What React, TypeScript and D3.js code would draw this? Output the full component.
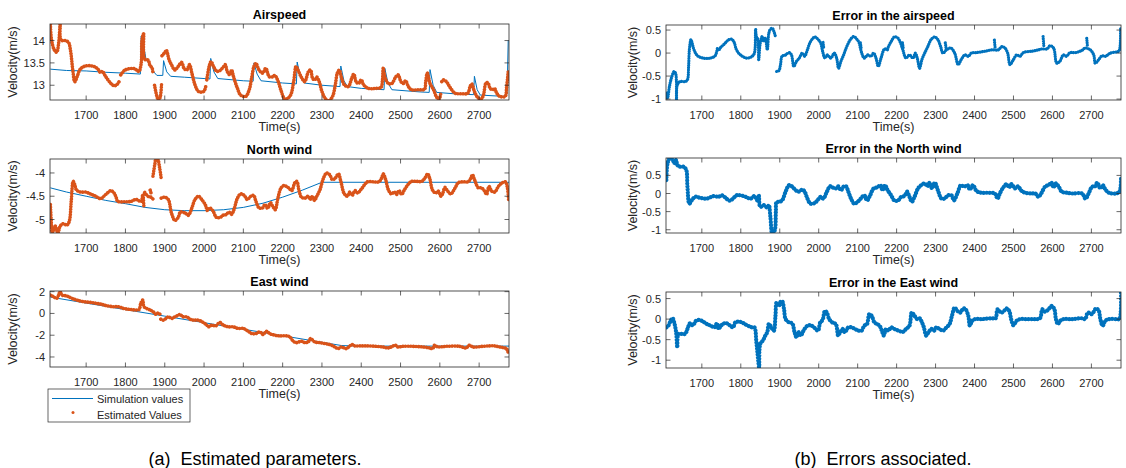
import React from 'react';
import * as d3 from 'd3';

type Pt = [number, number] | null;

const TIME_DOMAIN: [number, number] = [1608, 2776];
const TIME_TICKS = [1700, 1800, 1900, 2000, 2100, 2200, 2300, 2400, 2500, 2600, 2700];

const AIR_TICKS = [13, 13.5, 14];
const NORTH_TICKS = [-5, -4.5, -4];
const EAST_TICKS = [-4, -2, 0, 2];
const ERR_TICKS = [-1, -0.5, 0, 0.5];

const TITLES = ['Airspeed', 'North wind', 'East wind', 'Error in the airspeed', 'Error in the North wind', 'Error in the East wind'];
const LEGEND_LABELS = ['Simulation values', 'Estimated Values'];
const CAPTIONS = ['(a)\u00A0 Estimated parameters.', '(b)\u00A0 Errors associated.'];

const airSim: Pt[] = [
  [1609, 13.36], [1650, 13.33], [1700, 13.32], [1750, 13.29], [1800, 13.27], [1838, 13.25], [1840, 14.1], [1845, 13.95],
  [1852, 13.6], [1862, 13.45], [1872, 13.3], [1880, 13.22], [1895, 13.22], [1897, 13.55], [1905, 13.3], [1915, 13.2],
  [1950, 13.18], [2000, 13.15], [2015, 13.14], [2017, 13.6], [2025, 13.3], [2035, 13.15], [2100, 13.1], [2125, 13.09],
  [2127, 13.5], [2135, 13.25], [2145, 13.1], [2200, 13.05], [2235, 13.03], [2237, 13.52], [2245, 13.2], [2255, 13.05],
  [2300, 13.0], [2346, 12.97], [2348, 13.43], [2356, 13.1], [2365, 12.97], [2400, 12.93], [2458, 12.9], [2460, 13.38],
  [2468, 13.05], [2478, 12.9], [2550, 12.85], [2573, 12.84], [2575, 13.35], [2583, 13.0], [2592, 12.84], [2650, 12.8],
  [2686, 12.79], [2688, 13.2], [2695, 12.9], [2703, 12.78], [2765, 12.75], [2771, 12.8], [2774, 14.0],
];

const airEst: Pt[] = [
  [1609, 14.36], [1612, 14.01], [1619, 13.79], [1625, 13.74], [1630, 13.94], [1634, 14.37], [1636, 14.01], [1647, 14.0],
  [1655, 13.96], [1660, 13.79], [1666, 13.34], [1671, 13.08], [1677, 13.19], [1685, 13.36], [1698, 13.43], [1715, 13.43],
  [1728, 13.38], [1737, 13.28], [1741, 13.31], [1750, 13.19], [1763, 13.04], [1771, 12.99], [1778, 13.01], [1786, 13.12],
  null,
  [1788, 13.23], [1797, 13.33], [1810, 13.37], [1823, 13.37], [1834, 13.31], [1840, 13.49], [1842, 14.01], [1846, 14.15],
  [1849, 13.58], [1858, 13.56], [1862, 13.45], [1868, 13.38], [1870, 13.25],
  null,
  [1874, 13.0], [1880, 12.75], [1884, 12.67], [1888, 12.72], [1892, 13.05],
  null,
  [1893, 13.66], [1900, 13.73], [1904, 13.78], [1911, 13.57], [1917, 13.46], [1926, 13.34], [1934, 13.42], [1943, 13.51],
  [1949, 13.38], [1956, 13.34], [1963, 13.46], [1969, 13.27], [1977, 13.01], [1986, 12.86], [1999, 12.86], [2005, 13.0],
  null,
  [2007, 13.12], [2013, 13.42], [2018, 13.53], [2024, 13.42], [2033, 13.31], [2042, 13.34], [2050, 13.42], [2054, 13.46],
  [2059, 13.31], [2066, 13.23], [2070, 13.34], [2076, 13.16], [2085, 12.93], [2093, 12.78], [2106, 12.75], [2115, 12.9],
  [2121, 13.16], [2127, 13.42], [2132, 13.49], [2140, 13.34], [2149, 13.27], [2157, 13.38], [2166, 13.19], [2175, 13.19],
  [2180, 13.22], [2188, 13.1], [2196, 12.88], [2206, 12.69], [2219, 12.76], [2228, 13.08], [2234, 13.42], [2239, 13.34],
  [2247, 13.19], [2256, 13.08], [2266, 13.31], [2271, 13.34], [2276, 13.16], [2281, 13.12], [2287, 13.18], [2293, 13.08],
  [2300, 12.86], [2308, 12.71], [2317, 12.65], [2327, 12.75], [2334, 13.01], [2339, 13.27], [2344, 13.34], [2350, 13.16],
  [2357, 13.01], [2367, 12.97], [2376, 13.16], [2381, 13.25], [2387, 13.08], [2393, 13.04], [2400, 13.12], [2406, 13.01],
  [2418, 12.93], [2435, 12.93], [2450, 12.95], [2454, 13.12], [2456, 13.38], [2461, 13.16], [2469, 13.04], [2478, 13.04],
  [2488, 13.19], [2494, 13.23], [2501, 13.08], [2507, 13.04], [2513, 13.1], [2520, 12.97], [2528, 12.9], [2545, 12.9],
  [2561, 12.91], [2564, 13.08], [2568, 13.27], [2575, 13.04], [2584, 12.9], [2592, 12.73], [2598, 12.69], [2602, 12.8],
  null,
  [2605, 13.08], [2609, 13.12], [2617, 13.08], [2622, 13.01], [2630, 12.9], [2639, 12.82], [2656, 12.81], [2671, 12.82],
  [2677, 12.97], [2681, 13.03], [2688, 12.86], [2696, 12.73], [2705, 12.69], [2711, 12.78], [2717, 13.04], [2722, 13.06],
  [2728, 12.93], [2734, 12.9], [2739, 12.93], [2745, 12.82], [2753, 12.75], [2766, 12.75], [2770, 12.97], [2774, 13.31],
];

const northSim: Pt[] = [
  [1609, -4.32], [1650, -4.41], [1700, -4.5], [1750, -4.59], [1800, -4.66], [1850, -4.74], [1900, -4.79], [1950, -4.81],
  [2000, -4.81], [2050, -4.79], [2100, -4.74], [2150, -4.65], [2200, -4.52], [2250, -4.37], [2300, -4.2], [2776, -4.2],
];

const northEst: Pt[] = [
  [1609, -4.68], [1611, -5.0], [1614, -5.29], [1621, -5.14], [1628, -5.29], [1634, -5.14], [1642, -5.09], [1651, -5.12],
  [1657, -5.04], [1662, -4.61], [1667, -4.18], [1671, -4.25], [1675, -4.36], [1685, -4.41], [1698, -4.41], [1711, -4.45],
  [1724, -4.5], [1737, -4.55], [1750, -4.46], [1763, -4.38], [1771, -4.43], [1777, -4.54], [1780, -4.61], [1797, -4.62],
  [1814, -4.61], [1827, -4.57], [1840, -4.61], [1844, -4.46], [1847, -4.75],
  null,
  [1849, -4.42], [1857, -4.5], [1865, -4.52], [1870, -4.56],
  null,
  [1863, -4.37], [1866, -4.46],
  null,
  [1870, -4.07], [1875, -3.8], [1878, -3.68], [1882, -3.7], [1887, -3.89], [1891, -4.12],
  null,
  [1891, -4.54], [1900, -4.52], [1909, -4.57], [1917, -4.86], [1926, -5.02], [1934, -4.96], [1940, -4.84], [1952, -4.86],
  [1960, -4.91], [1969, -4.75], [1977, -4.57], [1986, -4.5], [1994, -4.57], [2003, -4.68], [2009, -4.81], [2014, -4.75],
  [2023, -4.82], [2031, -4.95], [2040, -4.96], [2048, -4.91], [2057, -4.89], [2063, -4.84], [2070, -4.89], [2076, -4.79],
  [2085, -4.54], [2093, -4.45], [2102, -4.48], [2110, -4.57], [2119, -4.5], [2126, -4.48], [2132, -4.61], [2140, -4.75],
  [2149, -4.75], [2155, -4.68], [2162, -4.76], [2169, -4.64], [2175, -4.72], [2181, -4.79], [2188, -4.54], [2196, -4.32],
  [2204, -4.27], [2215, -4.32], [2223, -4.38], [2231, -4.21], [2236, -4.18], [2242, -4.39], [2248, -4.52], [2257, -4.54],
  [2265, -4.5], [2270, -4.57], [2276, -4.5], [2281, -4.59], [2287, -4.5], [2295, -4.36], [2304, -4.11], [2312, -4.0],
  [2320, -4.04], [2326, -4.14], [2333, -4.12], [2342, -4.02], [2348, -4.18], [2357, -4.45], [2365, -4.5], [2371, -4.41],
  [2377, -4.48], [2384, -4.38], [2391, -4.43], [2399, -4.36], [2408, -4.26], [2416, -4.19], [2431, -4.19], [2445, -4.19],
  [2452, -4.11], [2456, -4.02], [2462, -4.14], [2469, -4.36], [2477, -4.45], [2484, -4.41], [2490, -4.46], [2496, -4.38],
  [2503, -4.46], [2510, -4.36], [2520, -4.24], [2528, -4.18], [2541, -4.18], [2554, -4.18], [2562, -4.11], [2569, -4.02],
  [2575, -4.14], [2581, -4.36], [2589, -4.43], [2596, -4.39], [2603, -4.5], [2607, -4.45], [2613, -4.31], [2620, -4.39],
  [2628, -4.45], [2639, -4.32], [2647, -4.21], [2660, -4.19], [2672, -4.19], [2679, -4.11], [2683, -4.04], [2689, -4.16],
  [2698, -4.32], [2706, -4.32], [2713, -4.38], [2719, -4.46], [2725, -4.29], [2732, -4.39], [2740, -4.41], [2749, -4.29],
  [2759, -4.21], [2767, -4.19], [2772, -4.32], [2775, -4.57],
];

const eastSim: Pt[] = [
  [1609, 1.5], [1700, 0.95], [1800, 0.35], [1900, -0.25], [2000, -0.85], [2100, -1.45], [2200, -2.05], [2300, -2.65],
  [2350, -2.95], [2400, -3.0], [2776, -3.0],
];

const eastEst: Pt[] = [
  [1609, 1.69], [1617, 1.54], [1625, 1.38], [1630, 1.69], [1634, 2.06], [1638, 1.69], [1647, 1.63], [1655, 1.54],
  [1664, 1.38], [1676, 1.23], [1693, 1.08], [1710, 1.02], [1727, 0.92], [1740, 0.83], [1752, 0.71], [1769, 0.62],
  [1782, 0.62], [1795, 0.46], [1812, 0.37], [1829, 0.31], [1835, 0.37], [1839, 0.92], [1844, 1.23], [1847, 0.62],
  [1854, 0.46], [1863, 0.31], [1871, 0.15], [1878, -0.09], [1884, 0.06], [1888, -0.09],
  null,
  [1890, -0.52], [1896, -0.62], [1903, -0.46], [1909, -0.31], [1918, -0.46], [1926, -0.31], [1935, -0.15], [1939, -0.09],
  [1946, -0.31], [1956, -0.31], [1964, -0.52], [1973, -0.62], [1985, -0.62], [1998, -0.83], [2007, -1.08], [2011, -1.23],
  [2019, -1.08], [2030, -1.14], [2040, -0.83], [2049, -1.08], [2062, -1.23], [2074, -1.23], [2087, -1.38], [2100, -1.38],
  [2112, -1.63], [2121, -1.85], [2132, -1.85], [2142, -1.69], [2150, -1.94], [2159, -1.63], [2167, -1.85], [2180, -2.0],
  [2193, -2.06], [2210, -2.06], [2218, -2.15], [2227, -2.55], [2235, -2.68], [2248, -2.55], [2256, -2.68], [2265, -2.62],
  [2271, -2.31], [2282, -2.62], [2294, -2.68], [2307, -2.77], [2320, -2.86], [2333, -3.08], [2341, -3.23], [2349, -3.08],
  [2362, -3.23], [2371, -2.98], [2377, -2.86], [2383, -2.98], [2396, -2.98], [2413, -2.98], [2438, -3.02], [2455, -3.08],
  [2468, -3.17], [2476, -3.08], [2487, -2.92], [2493, -3.08], [2506, -3.02], [2531, -3.02], [2557, -3.08], [2574, -3.17],
  [2582, -3.23], [2586, -2.92], [2595, -3.08], [2616, -3.02], [2650, -3.02], [2667, -3.17], [2675, -2.92], [2684, -3.08],
  [2709, -3.02], [2726, -2.98], [2739, -2.98], [2752, -3.08], [2769, -3.23], [2774, -3.6],
];

const errAir: Pt[] = [
  [1609, -0.87], [1612, -0.98], [1617, -0.72], [1623, -0.51], [1629, -0.4], [1633, -0.45], [1635, -1.02], [1637, -0.69],
  [1644, -0.62], [1657, -0.62], [1663, -0.58], [1666, -0.29], [1668, 0.07], [1672, 0.29], [1675, 0.22], [1680, 0.07],
  [1689, -0.06], [1704, -0.11], [1721, -0.11], [1734, -0.06], [1740, 0.11],
  null,
  [1745, 0.08], [1747, 0.11], [1758, 0.2], [1769, 0.29], [1777, 0.3], [1783, 0.23], [1789, 0.07], [1799, -0.04],
  [1816, -0.11], [1829, -0.07], [1835, 0], [1838, 0.52], [1840, 0.36], [1844, 0.29], [1846, -0.14], [1850, 0.22],
  [1855, 0.36], [1859, 0.25], [1863, 0.33], [1868, 0.07], [1872, 0.43], [1876, 0.52], [1881, 0.54], [1885, 0.47],
  [1889, 0.36],
  null,
  [1892, -0.4], [1898, -0.38], [1902, -0.25], [1906, -0.07], [1915, -0.04], [1924, 0.01], [1930, -0.04], [1936, -0.29],
  [1943, -0.18], [1950, -0.11], [1958, 0], [1964, -0.07], [1971, 0.07], [1979, 0.25], [1990, 0.35], [1998, 0.3],
  [2005, 0.22], [2010, 0.04], [2016, -0.11], [2022, -0.04], [2031, -0.11], [2040, 0], [2046, -0.11], [2051, -0.33],
  [2057, -0.18], [2064, -0.04], [2072, 0.14], [2081, 0.29], [2090, 0.36], [2098, 0.3], [2104, 0.22], [2108, 0.07],
  [2117, -0.11], [2126, -0.04], [2134, -0.07], [2141, 0], [2147, -0.11], [2153, -0.29], [2160, -0.11], [2169, 0.09],
  [2176, 0.07], [2179, 0.14], [2186, 0.25], [2194, 0.35], [2203, 0.33], [2210, 0.22], [2216, 0.07], [2224, -0.11],
  [2233, -0.04], [2242, -0.11], [2248, 0], [2253, -0.11], [2259, -0.33], [2265, -0.14], [2272, 0], [2280, 0.14],
  [2289, 0.3], [2298, 0.35], [2306, 0.29], [2313, 0.14], [2319, 0], [2328, 0.07], [2339, 0.11], [2349, 0],
  [2358, -0.25], [2366, -0.14], [2375, -0.04], [2384, -0.07], [2392, 0], [2405, 0.01], [2427, 0.04], [2444, 0.07],
  [2461, 0.07], [2470, 0.14], [2478, 0.11], [2485, 0], [2491, -0.25], [2500, -0.14], [2508, -0.04], [2517, -0.07],
  [2525, 0.01], [2547, 0.04], [2564, 0.07], [2573, 0.09], [2586, 0.09], [2594, 0.16], [2603, 0.11], [2611, -0.22],
  [2619, -0.18], [2628, -0.04], [2636, -0.07], [2645, 0.01], [2659, 0.01], [2676, 0.06], [2684, 0.11], [2697, 0.07],
  [2706, -0.04], [2710, -0.22], [2719, -0.14], [2727, -0.06], [2736, -0.07], [2749, 0], [2770, 0.04], [2773, 0.1],
  [2775, 0.55],
];

const errAirSpikes: Pt[] = [
  [2011, 0.23], [2013, 0.1], null, [2107, 0.22], [2109, 0.1], null, [2215, 0.22], [2217, 0.1], null,
  [2325, 0.22], [2327, 0.1], null, [2451, 0.28], [2453, 0.1], null, [2576, 0.36], [2578, 0.13], null,
  [2688, 0.32], [2690, 0.13],
];

const errNorth: Pt[] = [
  [1609, 0.37], [1612, 0.83], [1618, 0.97], [1625, 0.94], [1629, 0.83], [1634, 0.93], [1637, 0.79], [1644, 0.74],
  [1653, 0.74], [1660, 0.65], [1663, 0.19], [1668, -0.28], [1674, -0.19], [1683, -0.09], [1696, -0.12], [1713, -0.14],
  [1730, -0.07], [1743, -0.09], [1752, -0.05], [1763, -0.14], [1771, -0.2], [1780, -0.14], [1789, -0.05], [1799, -0.05],
  [1812, -0.09], [1825, -0.14], [1835, -0.07], [1842, -0.19], [1846, -0.05], [1850, -0.37], [1859, -0.32], [1868, -0.39],
  [1872, -0.32], [1876, -0.65], [1881, -1.1], [1887, -1.02], [1890, -0.51], [1892, -0.23], [1898, -0.23], [1906, -0.19],
  [1915, 0.05], [1924, 0.23], [1932, 0.19], [1941, 0.09], [1949, 0.05], [1958, 0.11], [1964, 0.05], [1971, -0.14],
  [1979, -0.28], [1990, -0.26], [1998, -0.17], [2005, -0.09], [2012, -0.14], [2021, 0.05], [2029, 0.2], [2035, 0.17],
  [2044, 0.14], [2050, 0.2], [2057, 0.09], [2064, 0.19], [2070, 0.2], [2076, 0.05], [2083, -0.14], [2091, -0.28],
  [2100, -0.23], [2108, -0.14], [2117, -0.05], [2124, -0.19], [2132, -0.05], [2141, 0.14], [2151, 0.17], [2158, 0.23],
  [2164, 0.09], [2170, 0.23], [2177, 0.09], [2186, -0.05], [2194, -0.19], [2203, -0.2], [2212, -0.09], [2220, -0.07],
  [2227, 0.05], [2233, -0.09], [2239, -0.23], [2246, -0.09], [2255, 0.14], [2263, 0.23], [2272, 0.28], [2279, 0.2],
  [2285, 0.3], [2291, 0.14], [2298, 0.3], [2306, 0.09], [2315, -0.14], [2323, -0.14], [2332, -0.05], [2341, -0.05],
  [2347, -0.19], [2356, 0], [2365, 0.23], [2373, 0.19], [2382, 0.23], [2388, 0.11], [2396, 0.23], [2405, 0.07],
  [2418, 0.02], [2435, 0.02], [2452, 0], [2459, -0.14], [2465, 0], [2474, 0.17], [2482, 0.26], [2489, 0.17],
  [2495, 0.26], [2504, 0.14], [2512, 0.2], [2519, 0.09], [2530, 0.02], [2547, 0], [2556, 0], [2564, -0.09],
  [2571, 0], [2582, 0.2], [2590, 0.23], [2597, 0.3], [2603, 0.17], [2609, 0.28], [2616, 0.19], [2624, 0.05],
  [2637, 0.02], [2650, 0], [2676, 0], [2685, -0.14], [2693, 0], [2702, 0.19], [2709, 0.19], [2715, 0.3],
  [2723, 0.14], [2729, 0.23], [2736, 0.11], [2745, 0.02], [2762, 0], [2772, 0.05], [2776, 0.46],
];

const errEast: Pt[] = [
  [1609, -0.2], [1614, -0.16], [1620, -0.04], [1625, 0.02], [1629, -0.08], [1634, -0.32], [1637, -0.69], [1640, -0.36],
  [1648, -0.36], [1657, -0.36], [1663, -0.24], [1670, -0.1], [1677, -0.15], [1685, -0.04], [1694, -0.02], [1703, -0.06],
  [1713, -0.12], [1723, -0.16], [1732, -0.2], [1739, -0.1], [1743, -0.24], [1749, -0.16], [1758, -0.1], [1764, -0.1],
  [1773, -0.16], [1780, -0.2], [1786, -0.08], [1795, -0.06], [1803, -0.08], [1816, -0.15], [1829, -0.2], [1835, -0.2],
  [1840, -0.56], [1844, -0.93], [1847, -1.17], [1850, -0.6], [1857, -0.52], [1863, -0.4], [1868, -0.32], [1872, -0.12],
  [1876, -0.16], [1881, -0.24], [1885, -0.28], [1889, 0.08], [1892, 0.4], [1898, 0.32], [1902, 0.42], [1906, 0.44],
  [1911, 0.24], [1915, 0], [1924, -0.08], [1932, -0.1], [1938, -0.32], [1943, -0.44], [1949, -0.32], [1954, -0.4],
  [1961, -0.28], [1971, -0.16], [1979, -0.15], [1988, -0.2], [1998, -0.28], [2004, -0.08], [2010, -0.02], [2016, 0.2],
  [2021, 0.16], [2027, 0], [2035, -0.08], [2044, -0.12], [2050, -0.4], [2055, -0.32], [2061, -0.24], [2067, -0.32],
  [2076, -0.2], [2084, -0.2], [2093, -0.24], [2102, -0.28], [2110, -0.28], [2117, -0.16], [2124, -0.12], [2130, 0.12],
  [2136, 0.08], [2143, -0.08], [2150, -0.12], [2156, -0.16], [2162, -0.28], [2167, -0.4], [2173, -0.24], [2179, -0.28],
  [2186, -0.2], [2194, -0.24], [2205, -0.28], [2216, -0.31], [2224, -0.24], [2233, -0.16], [2239, 0.16], [2246, 0.08],
  [2253, 0], [2259, 0.02], [2265, -0.08], [2270, -0.2], [2276, -0.4], [2282, -0.32], [2289, -0.24], [2296, -0.28],
  [2302, -0.2], [2310, -0.24], [2319, -0.28], [2328, -0.2], [2336, -0.12], [2342, 0.08], [2349, 0.28], [2356, 0.2],
  [2364, 0.16], [2371, 0.26], [2377, 0.24], [2384, 0.08], [2388, -0.16], [2394, -0.04], [2401, 0], [2418, 0],
  [2444, 0.02], [2454, 0.02], [2459, 0.24], [2468, 0.16], [2474, 0.18], [2482, 0.26], [2489, 0.2], [2494, 0],
  [2500, -0.15], [2508, -0.04], [2517, 0], [2534, 0], [2556, 0], [2568, 0.02], [2574, 0.24], [2581, 0.18],
  [2590, 0.24], [2598, 0.32], [2605, 0.24], [2609, 0], [2614, -0.12], [2620, -0.04], [2628, 0], [2650, 0],
  [2676, 0.02], [2684, 0], [2691, 0.16], [2700, 0.12], [2706, 0.18], [2712, 0.26], [2719, 0.2], [2723, 0],
  [2729, -0.16], [2736, -0.04], [2745, 0], [2766, 0], [2772, 0], [2776, 0.64],
];

const BLUE = '#0072BD';
const ORANGE = '#D95319';
const AXIS = '#262626';
const FONT = '"Liberation Sans", Arial, Helvetica, sans-serif';

interface PanelProps {
  id: string;
  x0: number; x1: number; y0: number; y1: number;
  yDomain: [number, number];
  yTicks: number[];
  title: string;
  yLabelX: number;
  sim?: Pt[];
  est: Pt[][];
  estColor: string;
  estWidth: number;
}

function Panel(p: PanelProps) {
  const x = d3.scaleLinear().domain(TIME_DOMAIN).range([p.x0, p.x1]);
  const y = d3.scaleLinear().domain(p.yDomain).range([p.y1, p.y0]);
  const smooth = d3.line<Pt>()
    .defined((d) => d !== null)
    .x((d) => x((d as [number, number])[0]))
    .y((d) => y((d as [number, number])[1]))
    .curve(d3.curveCatmullRom.alpha(0.5));
  const straight = d3.line<Pt>()
    .defined((d) => d !== null)
    .x((d) => x((d as [number, number])[0]))
    .y((d) => y((d as [number, number])[1]));
  const cx = (p.x0 + p.x1) / 2;
  const cy = (p.y0 + p.y1) / 2;
  const clip = `clip-${p.id}`;
  const tl = 4.5;
  return (
    <g>
      <defs>
        <clipPath id={clip}>
          <rect x={p.x0} y={p.y0} width={p.x1 - p.x0} height={p.y1 - p.y0} />
        </clipPath>
      </defs>
      <rect x={p.x0} y={p.y0} width={p.x1 - p.x0} height={p.y1 - p.y0} fill="#fff" />
      <g clipPath={`url(#${clip})`}>
        {p.sim && (
          <path d={straight(p.sim) || ''} fill="none" stroke={BLUE} strokeWidth={1} strokeLinejoin="round" />
        )}
        {p.est.map((s, i) => (
          <path
            key={i}
            d={smooth(s) || ''}
            fill="none"
            stroke={p.estColor}
            strokeWidth={p.estWidth}
            strokeLinecap="round"
            strokeDasharray={`0.01 ${p.estWidth * 0.72}`}
          />
        ))}
      </g>
      {TIME_TICKS.map((t) => (
        <g key={t}>
          <line x1={x(t)} x2={x(t)} y1={p.y1} y2={p.y1 - tl} stroke={AXIS} strokeWidth={0.7} />
          <line x1={x(t)} x2={x(t)} y1={p.y0} y2={p.y0 + tl} stroke={AXIS} strokeWidth={0.7} />
          <text x={x(t)} y={p.y1 + 18.5} textAnchor="middle" fontSize={11} fill={AXIS} fontFamily={FONT}>{t}</text>
        </g>
      ))}
      {p.yTicks.map((v) => (
        <g key={v}>
          <line x1={p.x0} x2={p.x0 + tl} y1={y(v)} y2={y(v)} stroke={AXIS} strokeWidth={0.7} />
          <line x1={p.x1} x2={p.x1 - tl} y1={y(v)} y2={y(v)} stroke={AXIS} strokeWidth={0.7} />
          <text x={p.x0 - 5} y={y(v) + 4} textAnchor="end" fontSize={11} fill={AXIS} fontFamily={FONT}>{String(v)}</text>
        </g>
      ))}
      <rect x={p.x0} y={p.y0} width={p.x1 - p.x0} height={p.y1 - p.y0} fill="none" stroke={AXIS} strokeWidth={0.8} />
      <text x={cx} y={p.y0 - 5.5} textAnchor="middle" fontSize={12.5} fontWeight="bold" fill="#000" fontFamily={FONT}>{p.title}</text>
      <text x={cx} y={p.y1 + 30.5} textAnchor="middle" fontSize={12.5} fill={AXIS} fontFamily={FONT}>Time(s)</text>
      <text
        transform={`translate(${p.yLabelX},${cy}) rotate(-90)`}
        textAnchor="middle"
        dominantBaseline="central"
        fontSize={12.5}
        fill={AXIS}
        fontFamily={FONT}
      >
        Velocity(m/s)
      </text>
    </g>
  );
}

export default function App() {
  const L = { x0: 50, x1: 509 };
  const R = { x0: 666, x1: 1121 };
  return (
    <svg width={1126} height={468} style={{ position: 'absolute', left: 0, top: 0, background: '#fff' }}>
      <rect x={0} y={0} width={1126} height={468} fill="#fff" />
      <Panel id="a1" {...L} y0={24} y1={100} yDomain={[12.67, 14.37]} yTicks={AIR_TICKS} title={TITLES[0]} yLabelX={13}
        sim={airSim} est={[airEst]} estColor={ORANGE} estWidth={3.6} />
      <Panel id="a2" {...L} y0={159} y1={233} yDomain={[-5.29, -3.7]} yTicks={NORTH_TICKS} title={TITLES[1]} yLabelX={13}
        sim={northSim} est={[northEst]} estColor={ORANGE} estWidth={3.6} />
      <Panel id="a3" {...L} y0={291} y1={367} yDomain={[-4.92, 2.06]} yTicks={EAST_TICKS} title={TITLES[2]} yLabelX={13}
        sim={eastSim} est={[eastEst]} estColor={ORANGE} estWidth={3.6} />
      <Panel id="b1" {...R} y0={25} y1={100} yDomain={[-1.02, 0.61]} yTicks={ERR_TICKS} title={TITLES[3]} yLabelX={633}
        est={[errAir, errAirSpikes]} estColor={BLUE} estWidth={3.2} />
      <Panel id="b2" {...R} y0={158} y1={233} yDomain={[-1.09, 0.98]} yTicks={ERR_TICKS} title={TITLES[4]} yLabelX={633}
        est={[errNorth]} estColor={BLUE} estWidth={4.2} />
      <Panel id="b3" {...R} y0={292} y1={368} yDomain={[-1.19, 0.66]} yTicks={ERR_TICKS} title={TITLES[5]} yLabelX={633}
        est={[errEast]} estColor={BLUE} estWidth={4.2} />

      <g fontFamily={FONT} fontSize={11} fill={AXIS}>
        <rect x={48} y={389} width={142} height={33} fill="#fff" stroke={AXIS} strokeWidth={0.7} />
        <line x1={52} x2={93} y1={398.5} y2={398.5} stroke={BLUE} strokeWidth={1} />
        <text x={97} y={403}>{LEGEND_LABELS[0]}</text>
        <circle cx={73} cy={412.5} r={1.5} fill={ORANGE} />
        <text x={97} y={418.5}>{LEGEND_LABELS[1]}</text>
      </g>

      <text x={255} y={465} textAnchor="middle" fontSize={18} fill="#000" fontFamily={FONT}>{CAPTIONS[0]}</text>
      <text x={883} y={465} textAnchor="middle" fontSize={18} fill="#000" fontFamily={FONT}>{CAPTIONS[1]}</text>
    </svg>
  );
}
